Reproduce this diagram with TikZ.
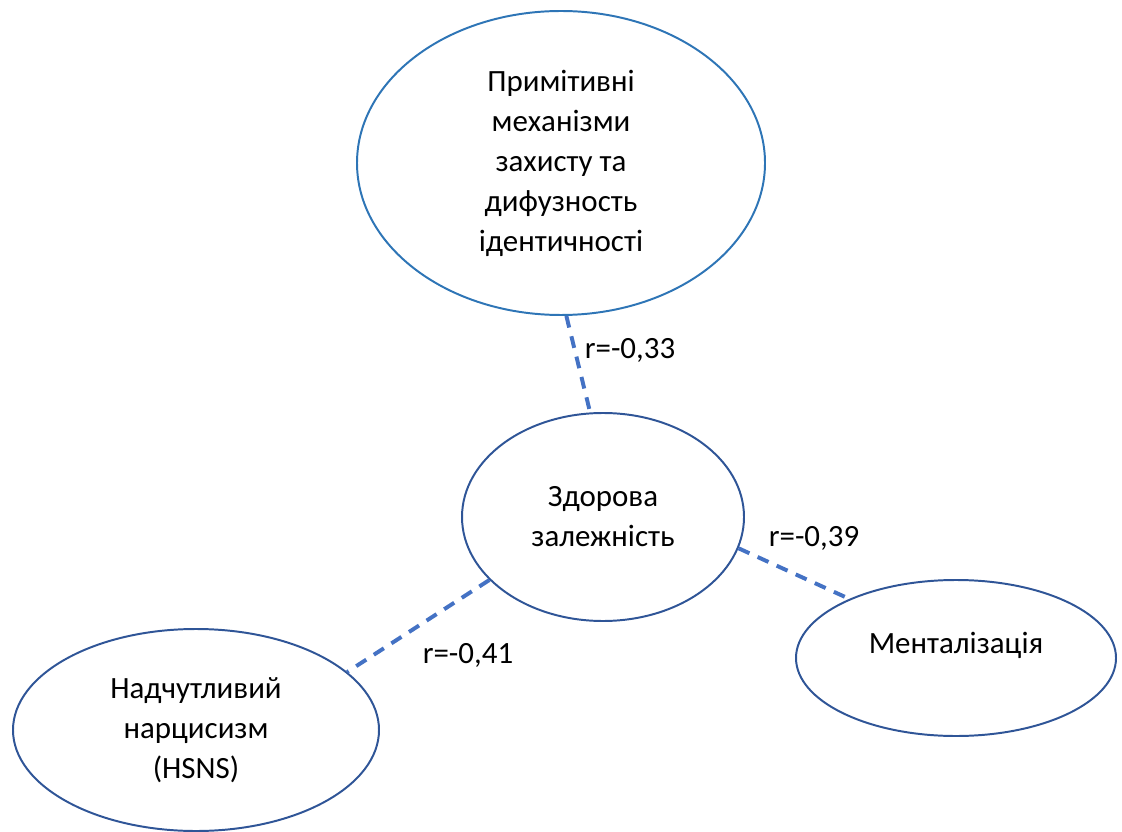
\documentclass[tikz,border=0pt]{standalone}
\usepackage{fontspec}
\setmainfont{Carlito}
\usepackage{tikz}
\usetikzlibrary{shapes.geometric}

\definecolor{topblue}{HTML}{2E75B6}
\definecolor{ovalblue}{HTML}{2F5597}
\definecolor{dashblue}{HTML}{4472C4}

\begin{document}
\begin{tikzpicture}[x=0.025cm,y=-0.025cm,font=\fontsize{22}{28.45}\selectfont,
  oval/.style={ellipse,draw=ovalblue,line width=1.4pt,inner sep=0pt,align=center},
  corr/.style={draw=dashblue,line width=2.8pt,dash pattern=on 8.5pt off 6.4pt}]
  \useasboundingbox (0,0) rectangle (1122,832);
  \node[oval,draw=topblue,minimum width=408*0.025cm,minimum height=304*0.025cm] (prim) at (561,163)
    {Примітивні\\механізми\\захисту та\\дифузность\\ідентичності};
  \node[oval,minimum width=282*0.025cm,minimum height=208*0.025cm] (zdor) at (603,517)
    {Здорова\\залежність};
  \node[oval,minimum width=320*0.025cm,minimum height=156*0.025cm] (ment) at (956,658)
    {Менталізація\\[-0.25cm]\mbox{}};
  \node[oval,minimum width=366*0.025cm,minimum height=202*0.025cm] (narc) at (196,730)
    {Надчутливий\\нарцисизм\\(HSNS)};
  \draw[corr] (prim.-88.5) -- (zdor.97);
  \draw[corr] (zdor.-13.4) -- (ment.151);
  \draw[corr] (zdor.209.6) -- (narc.21);
  \node (r1) at (630,350) {r=-0,33};
  \node (r2) at (814,538) {r=-0,39};
  \node (r3) at (468,655) {r=-0,41};
\end{tikzpicture}
\end{document}
